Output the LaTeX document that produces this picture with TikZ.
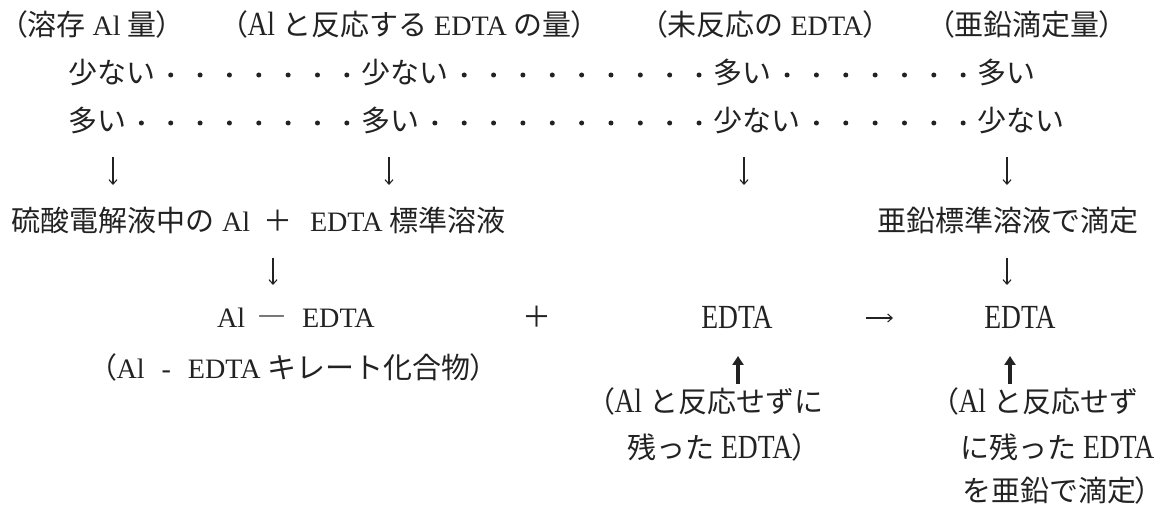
\documentclass[tikz,border=0pt]{standalone}
\usepackage{fontspec}
\usepackage{graphicx}
\setmainfont{Liberation Serif}[Scale=0.97]
\newfontfamily\jpf{Noto Sans CJK JP}
\newfontfamily\jppf{Noto Sans CJK JP}[RawFeature=+palt]
\newcommand\jp[1]{{\jpf #1}}
\newcommand\myLP{{\jppf （}}
\newcommand\myRP{{\jppf ）}}
\newcommand\tallE[1]{\scalebox{0.98}[1.2]{#1}}
\usetikzlibrary{arrows.meta}
\definecolor{ink}{HTML}{222222}
\begin{document}
\begin{tikzpicture}[x=1pt,y=-1pt,
  font=\fontsize{29pt}{29pt}\selectfont,
  txt/.style={anchor=base west, inner sep=0pt, outer sep=0pt, text=ink},
  ctr/.style={anchor=base, inner sep=0pt, outer sep=0pt, text=ink},
  dotmark/.style={ink},
  thinarr/.style={draw=ink, line width=1.1pt, -{Straight Barb[length=4.5pt,width=8pt]}},
  thickarr/.style={draw=ink, line width=3.2pt, -{Triangle[length=9pt,width=11pt]}}]
\useasboundingbox (0,0) rectangle (1163,521);

% row 1: headings
\node[txt] (h1) at (13,36) {\myLP\jp{溶存} Al \jp{量}\myRP};
\node[txt] (h2) at (233,36) {\myLP\tallE{Al} \jp{と反応する} EDTA \jp{の量}\myRP};
\node[txt] (h3) at (653,36) {\myLP\jp{未反応の} EDTA\myRP};
\node[txt] (h4) at (940,36) {\myLP\jp{亜鉛滴定量}\myRP};

% row 2
\node[txt] (a1) at (68,84) {\jp{少ない}};
\node[txt] (a2) at (361.5,84) {\jp{少ない}};
\node[txt] (a3) at (713.7,84) {\jp{多い}};
\node[txt] (a4) at (977.9,84) {\jp{多い}};
\foreach \k in {3,...,9}   {\fill[dotmark] ({68+29.35*(\k+0.5)},75) circle (2.5pt);}
\foreach \k in {13,...,21} {\fill[dotmark] ({68+29.35*(\k+0.5)},75) circle (2.5pt);}
\foreach \k in {24,...,30} {\fill[dotmark] ({68+29.35*(\k+0.5)},75) circle (2.5pt);}

% row 3
\node[txt] (b1) at (68,132) {\jp{多い}};
\node[txt] (b2) at (361.5,132) {\jp{多い}};
\node[txt] (b3) at (713.7,132) {\jp{少ない}};
\node[txt] (b4) at (977.9,132) {\jp{少ない}};
\foreach \k in {2,...,9}   {\fill[dotmark] ({68+29.35*(\k+0.5)},123) circle (2.5pt);}
\foreach \k in {12,...,21} {\fill[dotmark] ({68+29.35*(\k+0.5)},123) circle (2.5pt);}
\foreach \k in {25,...,30} {\fill[dotmark] ({68+29.35*(\k+0.5)},123) circle (2.5pt);}

% row 4 arrows
\coordinate (d1s) at (113,157);  \coordinate (d1e) at (113,185);
\coordinate (d2s) at (389,157);  \coordinate (d2e) at (389,185);
\coordinate (d3s) at (744,157);  \coordinate (d3e) at (744,185);
\coordinate (d4s) at (1007,157); \coordinate (d4e) at (1007,185);
\draw[thinarr] (d1s) -- (d1e);
\draw[thinarr] (d2s) -- (d2e);
\draw[thinarr] (d3s) -- (d3e);
\draw[thinarr] (d4s) -- (d4e);

% row 5
\node[txt] (s1) at (12,232) {\jp{硫酸電解液中の} Al};
\node[ctr] (s1p) at (278,232) {\jp{＋}};
\node[txt] (s1b) at (310,232) {EDTA \jp{標準溶液}};
\node[txt] (s2) at (877,232) {\jp{亜鉛標準溶液で滴定}};

% row 6 arrows
\coordinate (d5s) at (273,258);  \coordinate (d5e) at (273,285);
\coordinate (d6s) at (1007,258); \coordinate (d6e) at (1007,285);
\draw[thinarr] (d5s) -- (d5e);
\draw[thinarr] (d6s) -- (d6e);

% row 7
\node[txt] (e1) at (217,328) {Al};
\node[ctr] (e1d) at (272,328) {\jp{―}};
\node[txt] (e1b) at (302,328) {EDTA};
\node[ctr] (pl) at (537,328) {\jp{＋}};
\node[ctr] (e2) at (737,329) {\tallE{EDTA}};
\coordinate (r1s) at (866,318); \coordinate (r1e) at (893,318);
\draw[thinarr] (r1s) -- (r1e);
\node[ctr] (e3) at (1020,329) {\tallE{EDTA}};

% row 8
\node[txt] (c1) at (102,379) {\myLP Al\hspace{17pt}-\hspace{17pt}EDTA \jp{キレート化合物}\myRP};
\coordinate (u1s) at (738,384); \coordinate (u1e) at (738,356);
\coordinate (u2s) at (1010,384); \coordinate (u2e) at (1010,356);
\draw[thickarr] (u1s) -- (u1e);
\draw[thickarr] (u2s) -- (u2e);

% rows 9-11
\node[txt] (n1) at (600,413) {\myLP\tallE{Al} \jp{と反応せずに}};
\node[txt] (n2) at (627,458) {\jp{残った} \tallE{EDTA}\myRP};
\node[txt] (n3) at (944,413) {\myLP\tallE{Al} \jp{と反応せず}};
\node[txt] (n4) at (960,458) {\jp{に残った} \tallE{EDTA}};
\node[txt] (n5) at (962,501) {\jp{を亜鉛で滴定}\myRP};
\end{tikzpicture}
\end{document}
